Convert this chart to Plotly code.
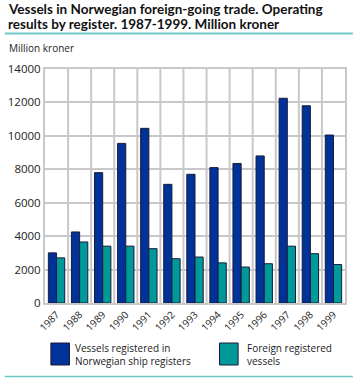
import plotly.graph_objects as go

years = ["1987", "1988", "1989", "1990", "1991", "1992", "1993",
         "1994", "1995", "1996", "1997", "1998", "1999"]
norwegian = [3000, 4250, 7800, 9550, 10450, 7100, 7700,
             8100, 8350, 8800, 12250, 11800, 10050]
foreign = [2700, 3650, 3400, 3400, 3250, 2650, 2750,
           2400, 2150, 2350, 3400, 2950, 2300]
series_names = ["Vessels registered in<br>Norwegian ship registers",
                "Foreign registered<br>vessels"]
title_lines = ["Vessels in Norwegian foreign-going trade. Operating",
               "results by register. 1987-1999. Million kroner"]
colors = ["#003399", "#009999"]
y_ticks = [0, 2000, 4000, 6000, 8000, 10000, 12000, 14000]

W, H = 355, 378
L, R, T, B = 41, 8, 69, 75
FONT = "Open Sans"
TFONT = "Lato"

fig = go.Figure()
for vals, name, col in zip([norwegian, foreign], series_names, colors):
    fig.add_trace(go.Bar(
        x=years, y=vals, name=name, marker_color=col,
        marker_line=dict(color="#1a1a3a", width=1), showlegend=False))

fig.update_layout(
    width=W, height=H, barmode="group", bargap=0.29, bargroupgap=0,
    margin=dict(l=L, r=R, t=T, b=B, pad=0),
    paper_bgcolor="white", plot_bgcolor="white",
    font=dict(family=FONT, size=10, color="#222"),
)
fig.update_xaxes(
    type="category", tickangle=-45, showgrid=False,
    showline=True, linecolor="#c8c8c8", linewidth=2, mirror=True,
    ticks="", tickfont=dict(size=10, color="#222"),
)
fig.update_yaxes(
    range=[0, 14000], tickvals=y_ticks, ticktext=[str(v) for v in y_ticks],
    showgrid=True, gridcolor="#c8c8c8", gridwidth=2,
    showline=True, linecolor="#c8c8c8", linewidth=2, mirror=True,
    zeroline=False, ticks="", tickfont=dict(size=11.5, color="#222"),
)

pw = W - L - R
ph = H - T - B

def fx(x):
    return (x - L) / pw

def fy(y):
    return (H - B - y) / ph

# vertical gridlines at category boundaries
n = len(years)
shapes = []
for i in range(1, n):
    shapes.append(dict(type="line", xref="x", yref="paper",
                       x0=i - 0.5, x1=i - 0.5, y0=0, y1=1,
                       line=dict(color="#c8c8c8", width=2), layer="below"))

# teal rules
shapes.append(dict(type="line", xref="paper", yref="paper",
                   x0=fx(0), x1=fx(W), y0=fy(33.5), y1=fy(33.5),
                   line=dict(color="#6cc9c9", width=2)))
shapes.append(dict(type="line", xref="paper", yref="paper",
                   x0=fx(0), x1=fx(W), y0=fy(376.5), y1=fy(376.5),
                   line=dict(color="#6cc9c9", width=1.5)))

# legend squares
for x0, col in [(47, colors[0]), (219, colors[1])]:
    shapes.append(dict(type="rect", xref="paper", yref="paper",
                       x0=fx(x0), x1=fx(x0 + 19), y0=fy(365), y1=fy(343),
                       fillcolor=col, line=dict(color="#1a1a3a", width=1)))

fig.update_layout(shapes=shapes)

annotations = []
for txt, yc in zip(title_lines, [8.5, 24]):
    annotations.append(dict(
        text="<b>" + txt + "</b>", xref="paper", yref="paper",
        x=fx(1), y=fy(yc), xanchor="left", yanchor="middle",
        showarrow=False, align="left",
        font=dict(family=TFONT, size=13.5, color="#111")))
annotations += [
    dict(text="Million kroner", xref="paper", yref="paper", x=fx(2), y=fy(48),
         xanchor="left", yanchor="middle", showarrow=False,
         font=dict(family=FONT, size=10, color="#222")),
    dict(text=series_names[0], xref="paper", yref="paper", x=fx(70), y=fy(354),
         xanchor="left", yanchor="middle", showarrow=False, align="left",
         font=dict(family=FONT, size=10, color="#222")),
    dict(text=series_names[1], xref="paper", yref="paper", x=fx(245), y=fy(354),
         xanchor="left", yanchor="middle", showarrow=False, align="left",
         font=dict(family=FONT, size=10, color="#222")),
]
fig.update_layout(annotations=annotations)

fig.write_html("out.html", config={"displayModeBar": False},
               post_script="document.body.style.margin='0px';document.body.style.overflow='hidden';")
